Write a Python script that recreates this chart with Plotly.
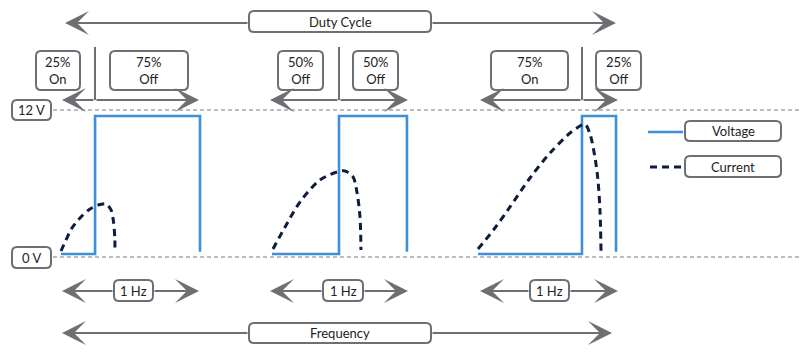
import plotly.graph_objects as go

W, H = 800, 355

# ---------------- data ----------------
# time axis in seconds (one cycle = 1 s -> 1 Hz), levels in volts
volt1_t = [0.0, 0.245, 0.245, 1.0, 1.0]
volt1_v = [0, 0, 12, 12, 0.2]
volt2_t = [1.518, 2.0, 2.0, 2.489, 2.489]
volt2_v = [0, 0, 12, 12, 0.2]
volt3_t = [3.0, 3.748, 3.748, 3.993, 3.993]
volt3_v = [0, 0, 12, 12, 0.2]

cur1_t = [0.0, 0.036, 0.079, 0.137, 0.209, 0.281, 0.324, 0.360, 0.378, 0.387, 0.388]
cur1_i = [0.26, 1.22, 2.26, 3.13, 3.91, 4.30, 4.35, 3.83, 2.78, 1.39, 0.26]
cur2_t = [1.525, 1.612, 1.719, 1.863, 1.986, 2.043, 2.101, 2.129, 2.151, 2.158]
cur2_i = [0.43, 2.35, 4.52, 6.43, 7.13, 7.22, 6.70, 5.39, 3.22, 0.35]
cur3_t = [3.0, 3.122, 3.230, 3.374, 3.518, 3.662, 3.748, 3.770, 3.806, 3.842, 3.863, 3.878, 3.885]
cur3_i = [0.43, 2.26, 4.09, 6.61, 8.78, 10.52, 11.22, 11.30, 10.43, 8.35, 6.43, 3.65, 0.17]

level_labels = ["12 V", "0 V"]
duty_labels = [["25%<br>On", "75%<br>Off"], ["50%<br>Off", "50%<br>Off"], ["75%<br>On", "25%<br>Off"]]
freq_labels = ["1 Hz", "1 Hz", "1 Hz"]
legend_labels = ["Voltage", "Current"]
top_label = "Duty Cycle"
bottom_label = "Frequency"

# ---------------- styling ----------------
BLUE = "#3f8fd8"
NAVY = "#0d1d3d"
GREY = "#6e6f73"
TXT = "#222222"
FONT = "Lato"

# axis mapping (pixel layout of the diagram)
X0_PX, PX_PER_S = 61.0, 139.0
V0_PX, PX_PER_V = 254.0, 11.5
x_range = [(0 - X0_PX) / PX_PER_S, (W - X0_PX) / PX_PER_S]
y_range = [(V0_PX - H) / PX_PER_V, V0_PX / PX_PER_V]


def px(xp):
    return xp / W


def py(yp):
    return 1 - yp / H


fig = go.Figure()

for t, v in [(volt1_t, volt1_v), (volt2_t, volt2_v), (volt3_t, volt3_v)]:
    fig.add_trace(go.Scatter(x=t, y=v, mode="lines",
                             line=dict(color=BLUE, width=2.6), showlegend=False,
                             hoverinfo="skip"))

for t, i in [(cur1_t, cur1_i), (cur2_t, cur2_i), (cur3_t, cur3_i)]:
    fig.add_trace(go.Scatter(x=t, y=i, mode="lines",
                             line=dict(color=NAVY, width=3, dash="7px,5px",
                                       shape="spline", smoothing=0.9),
                             showlegend=False, hoverinfo="skip"))

shapes = []
annotations = []


def rbox(x0, y0, x1, y1, r=5):
    X0, X1 = px(x0), px(x1)
    Y0, Y1 = py(y0), py(y1)
    rx, ry = r / W, r / H
    path = (f"M{X0+rx},{Y0} L{X1-rx},{Y0} Q{X1},{Y0} {X1},{Y0-ry} "
            f"L{X1},{Y1+ry} Q{X1},{Y1} {X1-rx},{Y1} L{X0+rx},{Y1} "
            f"Q{X0},{Y1} {X0},{Y1+ry} L{X0},{Y0-ry} Q{X0},{Y0} {X0+rx},{Y0} Z")
    shapes.append(dict(type="path", path=path, xref="paper", yref="paper",
                       line=dict(color=GREY, width=2), fillcolor="white",
                       layer="above"))


def label(x0, y0, x1, y1, text, size=13):
    rbox(x0, y0, x1, y1)
    annotations.append(dict(x=px((x0 + x1) / 2), y=py((y0 + y1) / 2),
                            xref="paper", yref="paper", text=text,
                            showarrow=False, xanchor="center", yanchor="middle",
                            font=dict(family=FONT, size=size, color=TXT)))


def arrow(tip_x, tail_x, y):
    annotations.append(dict(x=px(tip_x), y=py(y), xref="paper", yref="paper",
                            ax=tail_x - tip_x, ay=0, axref="pixel", ayref="pixel",
                            text="", showarrow=True, arrowhead=3, arrowsize=2.0,
                            arrowwidth=2, arrowcolor=GREY, standoff=0))


def hline(x0, x1, y, color, width, dash=None):
    shapes.append(dict(type="line", xref="paper", yref="paper",
                       x0=px(x0), x1=px(x1), y0=py(y), y1=py(y),
                       line=dict(color=color, width=width, dash=dash)))


# reference dashed lines
hline(53, 800, 110, "#7a7a7a", 1.2, "4px,3px")
hline(53, 800, 257, "#7a7a7a", 1.2, "4px,3px")
label(12, 100, 51, 120, level_labels[0])
label(12, 247, 51, 268, level_labels[1])

# Duty cycle arrow
arrow(65, 249, 23)
arrow(616, 431, 23)
label(249, 11, 431, 32, top_label)

# Frequency arrow
arrow(62, 249, 333)
arrow(612, 431, 333)
label(249, 323, 431, 343, bottom_label)

# per-cycle duty arrows and boxes
duty_geo = [
    (62, 95, 199, (36, 80), (110, 188)),
    (270, 339, 408, (278, 323), (353, 398)),
    (480, 582, 618, (491, 568), (596, 641)),
]
for (lt, dv, rt, b1, b2), labs in zip(duty_geo, duty_labels):
    arrow(lt, dv, 100)
    arrow(rt, dv, 100)
    shapes.append(dict(type="line", xref="paper", yref="paper",
                       x0=px(dv), x1=px(dv), y0=py(47), y1=py(100),
                       line=dict(color=GREY, width=2)))
    label(b1[0], 51, b1[1], 90, labs[0])
    label(b2[0], 51, b2[1], 90, labs[1])

# 1 Hz arrows
hz_geo = [(62, 199, 114, 153), (270, 408, 323, 363), (480, 618, 530, 569)]
for (lt, rt, b0, b1), lab in zip(hz_geo, freq_labels):
    arrow(lt, b0, 291)
    arrow(rt, b1, 291)
    label(b0, 280, b1, 301, lab)

# legend
hline(648, 683, 132, BLUE, 2.6)
hline(650, 683, 167, NAVY, 3, "7px,5px")
label(685, 121, 781, 141, legend_labels[0])
label(685, 156, 781, 177, legend_labels[1])

fig.update_layout(
    width=W, height=H, margin=dict(l=0, r=0, t=0, b=0),
    paper_bgcolor="white", plot_bgcolor="white",
    xaxis=dict(range=x_range, visible=False, fixedrange=True),
    yaxis=dict(range=y_range, visible=False, fixedrange=True),
    shapes=shapes, annotations=annotations, showlegend=False,
)

fig.write_html("out.html", config={"staticPlot": True},
               post_script="document.body.style.margin='0';document.body.style.padding='0';")
